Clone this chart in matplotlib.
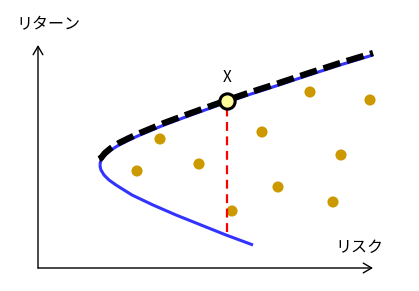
import numpy as np
import matplotlib.pyplot as plt

plt.rcParams['font.family'] = ['Noto Sans CJK JP', 'DejaVu Sans']

# minimum-variance frontier (risk, return)
upper_risk = [62, 62.3, 63.3, 65, 67, 73, 81, 91, 102, 126, 153, 181, 210, 241, 271, 302, 335]
upper_ret = [103, 105.5, 108, 110.5, 113, 118, 123, 128, 133, 143, 153, 163, 173, 183, 193, 203, 213]
lower_risk = [62, 62.3, 63, 64.5, 66, 71, 78, 94, 115, 138, 163, 188, 215]
lower_ret = [103, 100.5, 98, 95.5, 93, 88, 83, 73, 63, 53, 43, 33, 23]

# efficient part (dashed)
eff_risk = [61, 63, 65, 67, 73, 81, 91, 102, 126, 153, 181, 210, 241, 271, 302, 335]
eff_ret = [109, 110, 112.5, 115, 120, 125, 130, 135, 145, 155, 165, 175, 185, 195, 205, 215]

# individual assets
asset_risk = [122, 99, 161, 224, 272, 332, 303, 240, 295, 194]
asset_ret = [129, 97, 104, 136, 176, 168, 113, 81, 66, 57]

# tangency point X
x_risk = 189
x_ret = 167
x_floor = 36

fig = plt.figure(figsize=(4.19, 2.91), dpi=100)
ax = fig.add_axes([0, 0, 1, 1])
ax.set_xlim(-38, 381)
ax.set_ylim(-23, 268)
ax.axis('off')

# axes with open arrow heads
ax.annotate('', xy=(335, 0), xytext=(0, 0),
            arrowprops=dict(arrowstyle='->,head_length=0.6,head_width=0.35', color='black', lw=1, shrinkA=0, shrinkB=0))
ax.annotate('', xy=(0, 223), xytext=(0, 0),
            arrowprops=dict(arrowstyle='->,head_length=0.6,head_width=0.35', color='black', lw=1, shrinkA=0, shrinkB=0))
ax.text(10, 243, 'リターン', fontsize=11.5, ha='center', va='center')
ax.text(321, 21, 'リスク', fontsize=11.5, ha='center', va='center')

ax.plot(upper_risk, upper_ret, color='#3333ff', lw=2.2, solid_capstyle='butt', zorder=2)
ax.plot(lower_risk, lower_ret, color='#3333ff', lw=2.2, solid_capstyle='butt', zorder=2)
ax.plot(eff_risk, eff_ret, color='black', lw=4.5, dashes=(2.8, 1.1), zorder=3)

ax.scatter(asset_risk, asset_ret, s=64, color='#cc9900', edgecolors='none', zorder=2)

ax.plot([x_risk, x_risk], [x_floor, x_ret], color='red', lw=1.6, dashes=(4, 2.5), zorder=4)
ax.plot([x_risk], [x_ret], marker='o', ms=11, mfc='#ffff99', mec='black', mew=2.2, zorder=5)
ax.text(x_risk, x_ret + 23, 'X', fontsize=11, ha='center', va='center')

fig.savefig('out.png', dpi=100)
